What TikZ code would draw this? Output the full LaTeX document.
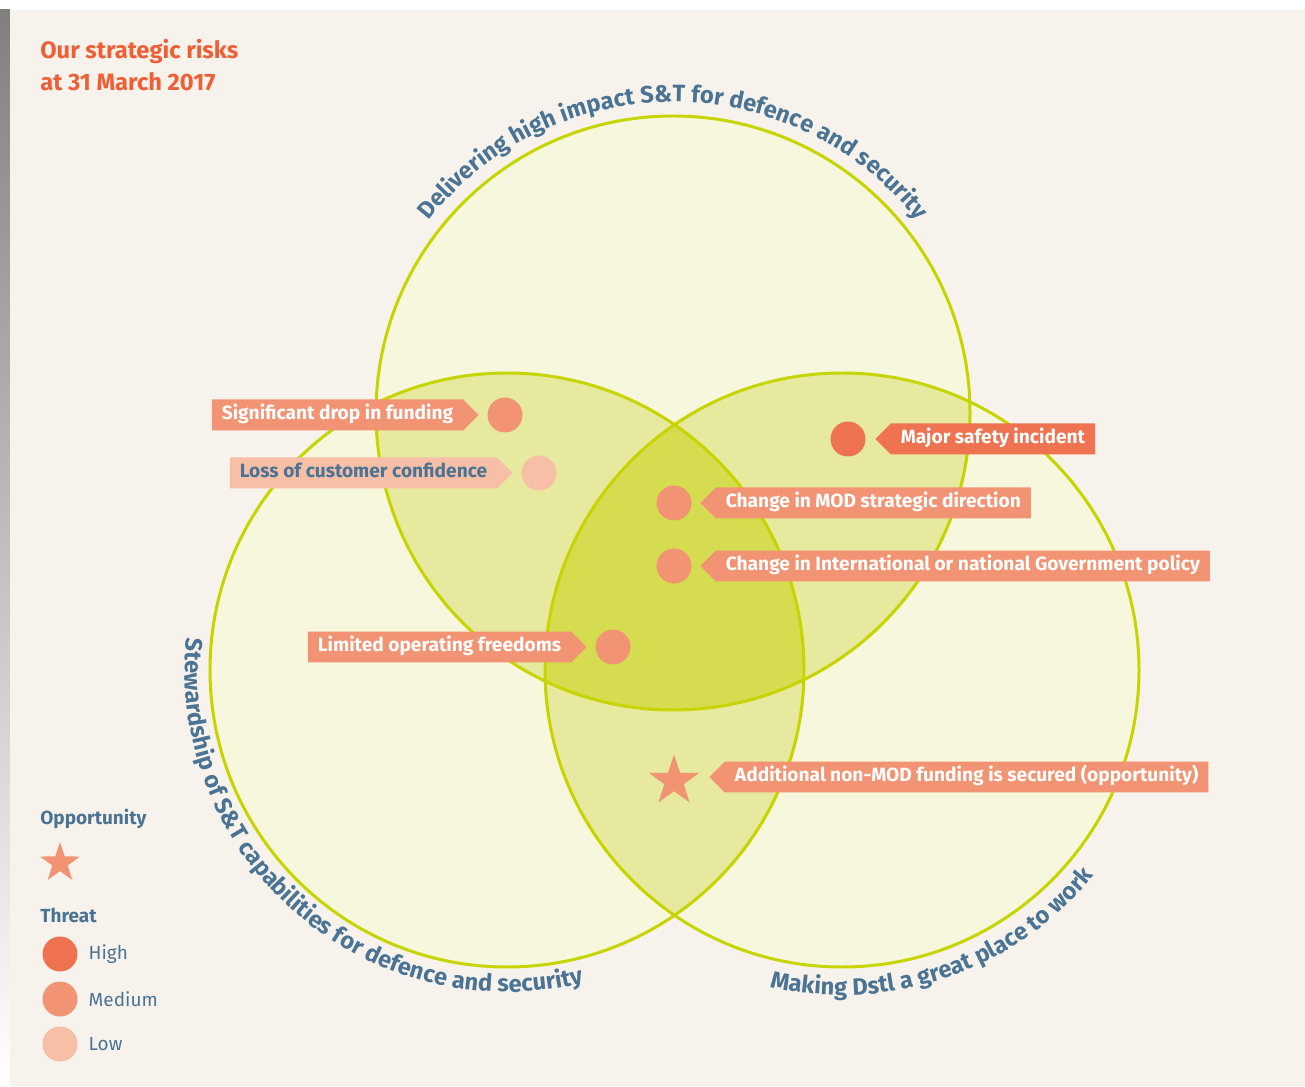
\documentclass[tikz,border=0pt]{standalone}
\usepackage{fontspec}
\setmainfont{Fira Sans}
\usetikzlibrary{positioning,shapes.symbols,shapes.geometric,decorations.text}
\definecolor{paper}{HTML}{F7F3EC}
\definecolor{shade}{HTML}{EAEAE8}
\definecolor{limeline}{HTML}{C8D400}
\definecolor{onefill}{HTML}{F6F7DC}
\definecolor{twofill}{HTML}{E6E99E}
\definecolor{threefill}{HTML}{D5DC50}
\definecolor{riskhigh}{HTML}{EF7350}
\definecolor{riskmid}{HTML}{F29474}
\definecolor{risklow}{HTML}{F7BFA6}
\definecolor{inkblue}{HTML}{4A7394}
\definecolor{titleorange}{HTML}{EE5F36}
\newcommand{\arcfont}{\bfseries\fontsize{13.5}{15}\selectfont}
\tikzset{
  dot/.style={circle, minimum size=0.7cm, inner sep=0pt},
  lbl/.style={signal, signal pointer angle=90, fill=riskmid, text=white,
    font=\bfseries\fontsize{10.9}{12}\selectfont, minimum height=0.62cm,
    inner xsep=0.2cm, inner ysep=0pt, text height=7.6pt, text depth=2.3pt},
  opp/.style={star, star points=5, star point ratio=2.6, fill=riskmid, inner sep=0pt},
  venn/.style={draw=limeline, line width=1.7pt},
  keytxt/.style={text=inkblue, inner sep=0pt, font=\fontsize{10.8}{12}\selectfont},
  keyhead/.style={text=inkblue, inner sep=0pt, anchor=base west, font=\bfseries\fontsize{10.8}{12}\selectfont},
}
\begin{document}
\begin{tikzpicture}[x=0.02cm, y=0.02cm]
  \useasboundingbox (0,0) rectangle (1305,1086);
  % paper
  \fill[white] (0,0) rectangle (1305,1086);
  \fill[shade] (0,0) rectangle (10,1076);
  \fill[paper] (10,0) rectangle (1305,1076);

  % the three circles
  \coordinate (T) at (673,673);
  \coordinate (L) at (507,416);
  \coordinate (R) at (842,416);
  \fill[onefill] (T) circle[radius=297] (L) circle[radius=297] (R) circle[radius=297];
  \begin{scope}
    \clip (T) circle[radius=297];
    \fill[twofill] (L) circle[radius=297] (R) circle[radius=297];
  \end{scope}
  \begin{scope}
    \clip (L) circle[radius=297];
    \fill[twofill] (R) circle[radius=297];
    \clip (T) circle[radius=297];
    \fill[threefill] (R) circle[radius=297];
  \end{scope}
  \draw[venn] (T) circle[radius=297] (L) circle[radius=297] (R) circle[radius=297];

  % circle titles
  \path[decorate, decoration={text along path, text align=center, text color=inkblue,
    text={|\arcfont|Delivering high impact S{\&}T for defence and security}}]
    (T) ++(165:311) arc[start angle=165, end angle=15, radius=311];
  \path[decorate, decoration={text along path, text align=center, text color=inkblue,
    text={|\arcfont|Stewardship of S{\&}T capabilities for defence and security}}]
    (L) ++(139:322) arc[start angle=139, end angle=319, radius=322];
  \path[decorate, decoration={text along path, text align=center, text color=inkblue,
    text={|\arcfont|Making Dstl a great place to work}}]
    (R) ++(199:325) arc[start angle=199, end angle=379, radius=325];

  \node[anchor=north west, align=left, inner sep=0pt, text=titleorange,
    font=\bfseries\fontsize{13.5}{18}\selectfont] (title) at (40,1047)
    {Our strategic risks\\at 31 March 2017};

  % risks
  \node[dot, fill=riskmid] (funding) at (505,671) {};
  \node[lbl, signal to=east, left=0.16cm of funding] (fundinglbl) {Significant drop in funding};
  \node[dot, fill=risklow] (confidence) at (539,613) {};
  \node[lbl, signal to=east, fill=risklow, text=inkblue, left=0.16cm of confidence] (confidencelbl) {Loss of customer confidence};
  \node[dot, fill=riskhigh] (safety) at (848,647) {};
  \node[lbl, signal to=west, fill=riskhigh, right=0.18cm of safety] (safetylbl) {Major safety incident};
  \node[dot, fill=riskmid] (direction) at (674,583) {};
  \node[lbl, signal to=west, right=0.16cm of direction] (directionlbl) {Change in MOD strategic direction};
  \node[dot, fill=riskmid] (policy) at (674,520) {};
  \node[lbl, signal to=west, right=0.16cm of policy] (policylbl) {Change in International or national Government policy};
  \node[dot, fill=riskmid] (freedoms) at (613,439) {};
  \node[lbl, signal to=east, left=0.16cm of freedoms] (freedomslbl) {Limited operating freedoms};
  \node[opp, minimum size=1.06cm] (funded) at (674,305) {};
  \node[lbl, signal to=west, right=0.7cm of funded.center, yshift=0.08cm] (fundedlbl) {Additional non-MOD funding is secured (opportunity)};

  % key
  \node[keyhead] (opphead) at (40,262) {Opportunity};
  \node[opp, minimum size=0.84cm] (oppkey) at (60,223) {};
  \node[keyhead] (threathead) at (40,164) {Threat};
  \node[dot, fill=riskhigh] (highkey) at (60,132) {};
  \node[keytxt, right=0.21cm of highkey] (hightxt) {High};
  \node[dot, fill=riskmid] (midkey) at (60,87) {};
  \node[keytxt, right=0.21cm of midkey] (midtxt) {Medium};
  \node[dot, fill=risklow] (lowkey) at (60,42) {};
  \node[keytxt, right=0.21cm of lowkey] (lowtxt) {Low};
\end{tikzpicture}
\end{document}
